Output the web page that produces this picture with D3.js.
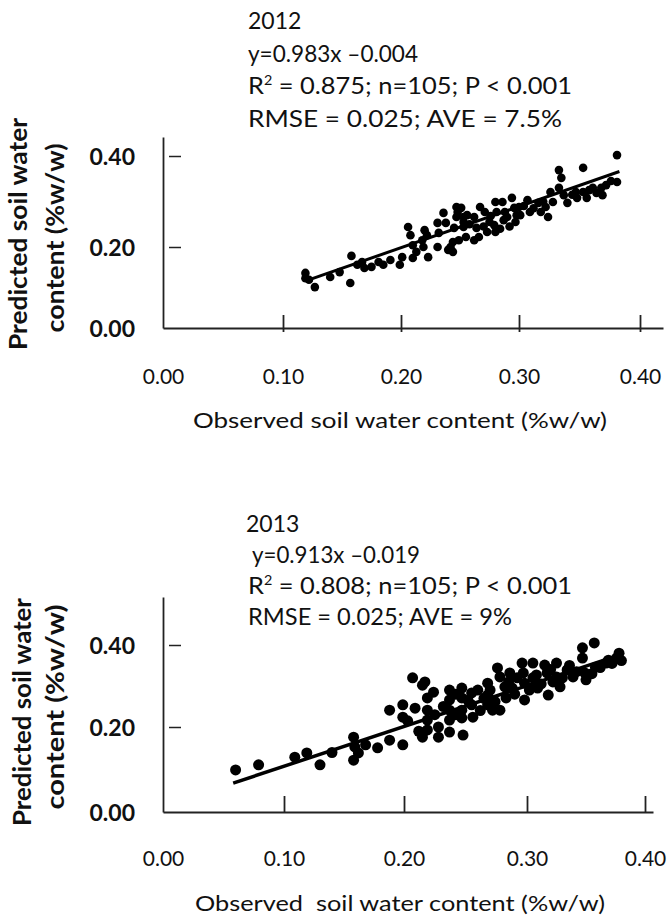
<!DOCTYPE html>
<html><head><meta charset="utf-8">
<script src="https://cdn.jsdelivr.net/npm/d3@7"></script>
<style>html,body{margin:0;padding:0;background:#fff;}svg{display:block;}</style>
</head><body>
<svg id="chart" width="670" height="920"></svg>
<script>
// ---------- data ----------
const xTicks = [0, 0.1, 0.2, 0.3, 0.4];
const xTickLabels = ["0.00", "0.10", "0.20", "0.30", "0.40"];
const yTicks = [0, 0.2, 0.4];
const yTickLabels = ["0.00", "0.20", "0.40"];

const obs2012 = [0.119,0.119,0.122,0.127,0.140,0.148,0.157,0.158,0.163,0.167,0.169,0.175,0.181,0.185,0.191,0.199,0.201,0.206,0.208,0.210,0.213,0.210,0.218,0.219,0.220,0.222,0.223,0.231,0.232,0.231,0.236,0.238,0.240,0.242,0.244,0.247,0.248,0.249,0.253,0.253,0.255,
0.247,0.245,0.244,0.251,0.253,0.262,0.264,0.262,0.267,0.271,0.275,0.273,0.280,0.281,0.279,0.280,0.286,0.288,0.287,0.294,0.296,0.297,0.300,0.301,0.307,0.309,0.316,0.318,0.322,0.324,0.326,0.328,0.333,0.335,0.333,0.337,0.340,0.347,0.348,0.353,0.353,0.356,0.361,0.364,0.368,0.369,0.372,0.381,0.381,
0.256,0.258,0.266,0.270,0.276,0.284,0.290,0.292,0.298,0.304,0.312,0.320,0.344,0.358,0.376];
const pred2012 = [0.136,0.123,0.119,0.101,0.126,0.138,0.111,0.178,0.156,0.163,0.148,0.151,0.163,0.156,0.168,0.156,0.175,0.244,0.226,0.204,0.188,0.173,0.215,0.200,0.237,0.226,0.175,0.253,0.231,0.200,0.275,0.253,0.193,0.200,0.188,0.288,0.277,0.215,0.266,0.244,0.222,
0.266,0.242,0.211,0.286,0.255,0.266,0.242,0.215,0.288,0.277,0.255,0.233,0.299,0.277,0.248,0.233,0.299,0.277,0.259,0.308,0.286,0.255,0.288,0.270,0.303,0.277,0.297,0.277,0.288,0.266,0.321,0.299,0.369,0.352,0.330,0.314,0.297,0.321,0.308,0.374,0.321,0.308,0.330,0.319,0.330,0.314,0.336,0.402,0.343,
0.270,0.250,0.222,0.245,0.268,0.240,0.266,0.245,0.270,0.290,0.285,0.300,0.315,0.325,0.345];
const fitX2012 = [0.123, 0.383];
const fitY2012 = [0.120, 0.366];

const obs2013 = [0.060,0.079,0.109,0.119,0.130,0.158,0.159,0.158,0.162,0.168,0.178,0.188,0.199,0.188,0.199,0.199,0.209,0.207,0.215,0.215,
0.217,0.219,0.219,0.219,0.219,0.215,0.228,0.228,0.237,0.237,0.237,0.237,0.237,0.247,0.247,0.247,0.247,0.248,0.255,0.255,0.256,0.268,0.268,0.268,0.272,0.276,0.278,0.282,0.283,0.278,0.286,0.288,0.296,0.297,0.298,0.298,0.305,0.308,0.308,0.309,0.315,0.317,0.318,0.325,0.325,0.328,0.334,0.339,0.347,0.347,0.349,0.350,0.357,0.358,0.367,0.369,0.376,0.378,
0.225,0.232,0.242,0.242,0.252,0.260,0.262,0.265,0.270,0.274,0.285,0.290,0.292,0.302,0.305,0.312,0.320,0.322,0.330,0.336,0.342,0.355,0.362,0.372,0.380,0.224,0.203,0.212,0.140];
const pred2013 = [0.099,0.111,0.129,0.139,0.111,0.176,0.153,0.122,0.139,0.158,0.151,0.169,0.158,0.241,0.254,0.224,0.246,0.320,0.302,0.176,
0.310,0.271,0.241,0.217,0.193,0.186,0.200,0.176,0.290,0.266,0.241,0.217,0.188,0.295,0.271,0.241,0.222,0.181,0.283,0.254,0.224,0.307,0.278,0.254,0.241,0.344,0.322,0.298,0.271,0.241,0.332,0.295,0.356,0.332,0.307,0.266,0.356,0.327,0.307,0.295,0.351,0.332,0.278,0.356,0.322,0.298,0.339,0.322,0.393,0.368,0.332,0.315,0.405,0.346,0.356,0.363,0.368,0.380,
0.230,0.250,0.280,0.230,0.265,0.290,0.240,0.270,0.290,0.262,0.310,0.280,0.320,0.290,0.320,0.305,0.340,0.310,0.320,0.350,0.335,0.330,0.345,0.355,0.362,0.285,0.215,0.190,0.140];
const fitX2013 = [0.058, 0.380];
const fitY2013 = [0.068, 0.377];

const header2012 = ["2012", "y=0.983x \u20130.004", ["R", "2", " = 0.875; n=105; P < 0.001"], "RMSE = 0.025; AVE = 7.5%"];
const header2013 = ["2013", "y=0.913x \u20130.019", ["R", "2", " = 0.808; n=105; P < 0.001"], "RMSE = 0.025; AVE = 9%"];

const yTitle = ["Predicted soil water", "content (%w/w)"];
const xTitle2012 = "Observed soil water content (%w/w)";
const xTitle2013 = "Observed\u00a0 soil water content (%w/w)";

// ---------- drawing ----------
const svg = d3.select("#chart");
const FONT = "Lato, 'Open Sans', sans-serif";

function panel(o) {
  const x = d3.scaleLinear().domain(o.xDom).range(o.xRange);
  const y = d3.scaleLinear().domain(o.yDom).range(o.yRange);
  const g = svg.append("g");

  // header text
  o.header.forEach((line, i) => {
    const t = g.append("text").attr("x", o.headX[i]).attr("y", o.headY + i * o.headStep)
      .attr("font-family", FONT).attr("font-size", 23).attr("fill", "#111");
    if (o.headW[i]) t.attr("textLength", o.headW[i]).attr("lengthAdjust", "spacingAndGlyphs");
    if (Array.isArray(line)) {
      t.append("tspan").text(line[0]);
      t.append("tspan").attr("dy", -9).attr("font-size", 13).text(line[1]);
      t.append("tspan").attr("dy", 9).text(line[2]);
    } else {
      t.text(line);
    }
  });

  // x axis
  const xAx = g.append("g").attr("transform", `translate(0,${y(0)})`)
    .call(d3.axisBottom(x).tickValues(xTicks).tickFormat((d, i) => xTickLabels[i])
      .tickSizeInner(-o.xTickLen).tickSizeOuter(0));
  xAx.select(".domain").attr("stroke", "#222").attr("stroke-width", 1.8);
  xAx.selectAll(".tick line").attr("stroke", "#222").attr("stroke-width", 1.8)
    .attr("y1", o.xTickBelow).style("display", d => d === 0 ? "none" : null);
  xAx.selectAll(".tick text").attr("y", o.xLabOff).attr("dy", null)
    .attr("font-family", FONT).attr("font-size", 21).attr("fill", "#111");

  // y axis
  const yAx = g.append("g").attr("transform", `translate(${x(0)},0)`)
    .call(d3.axisLeft(y).tickValues(yTicks).tickFormat((d, i) => yTickLabels[i])
      .tickSizeInner(0).tickSizeOuter(0));
  yAx.select(".domain").attr("stroke", "#222").attr("stroke-width", 1.8);
  yAx.selectAll(".tick line").attr("x1", 6).attr("x2", 18).attr("stroke", "#222").attr("stroke-width", 1.5)
    .style("display", d => d === 0 ? "none" : null);
  yAx.selectAll(".tick text").attr("x", -28).attr("dy", "0.36em")
    .attr("font-family", FONT).attr("font-weight", "bold").attr("font-size", 23).attr("fill", "#111");

  // axis titles
  const yt = g.append("g").attr("transform", `rotate(-90)`);
  [0, 1].forEach(k => {
    yt.append("text").attr("x", -o.yTitleY[k]).attr("y", o.yTitleX[k])
      .attr("text-anchor", "middle").attr("font-family", FONT).attr("font-weight", "bold")
      .attr("font-size", 24).attr("fill", "#111")
      .attr("textLength", o.yTitleW[k]).attr("lengthAdjust", "spacingAndGlyphs")
      .text(yTitle[k]);
  });

  g.append("text").attr("x", o.xTitleX).attr("y", o.xTitleY).attr("text-anchor", "middle")
    .attr("font-family", FONT).attr("font-size", 22).attr("fill", "#111")
    .attr("textLength", o.xTitleW).attr("lengthAdjust", "spacingAndGlyphs").text(o.xTitle);

  // points
  g.append("g").selectAll("circle").data(o.obs.map((v, i) => [v, o.pred[i]])).join("circle")
    .attr("cx", d => x(d[0])).attr("cy", d => y(d[1])).attr("r", o.r).attr("fill", "#000");

  // fit line
  g.append("path").datum(o.fitX.map((v, i) => [v, o.fitY[i]]))
    .attr("d", d3.line().x(d => x(d[0])).y(d => y(d[1])))
    .attr("stroke", "#000").attr("stroke-width", o.lw).attr("fill", "none");
}

panel({
  xDom: [0, 0.1, 0.2, 0.3, 0.4, 0.42], xRange: [163, 283, 401, 519, 640, 663],
  yDom: [0, 0.2, 0.4, 0.442], yRange: [328, 247, 156, 137],
  header: header2012, headX: [248, 248, 248, 248], headW: [0, 170, 324, 314], headY: 29, headStep: 32.5,
  xTickLen: 13, xTickBelow: 4, xLabOff: 56,
  yTitleY: [234, 238], yTitleX: [27, 64], yTitleW: [232, 189],
  xTitle: xTitle2012, xTitleX: 400, xTitleY: 428, xTitleW: 414,
  obs: obs2012, pred: pred2012, fitX: fitX2012, fitY: fitY2012, r: 4.3, lw: 3
});

panel({
  xDom: [0, 0.1, 0.2, 0.3, 0.4, 0.41], xRange: [163, 284, 404, 527, 645, 653],
  yDom: [0, 0.2, 0.4, 0.517], yRange: [812, 727, 645, 597],
  header: header2013, headX: [246, 252, 248, 248], headW: [0, 168, 324, 264], headY: 532, headStep: 31,
  xTickLen: 16, xTickBelow: 0, xLabOff: 54,
  yTitleY: [712, 707], yTitleX: [31, 64], yTitleW: [228, 205],
  xTitle: xTitle2013, xTitleX: 400, xTitleY: 911, xTitleW: 410,
  obs: obs2013, pred: pred2013, fitX: fitX2013, fitY: fitY2013, r: 5.5, lw: 3.5
});
</script>
</body></html>
